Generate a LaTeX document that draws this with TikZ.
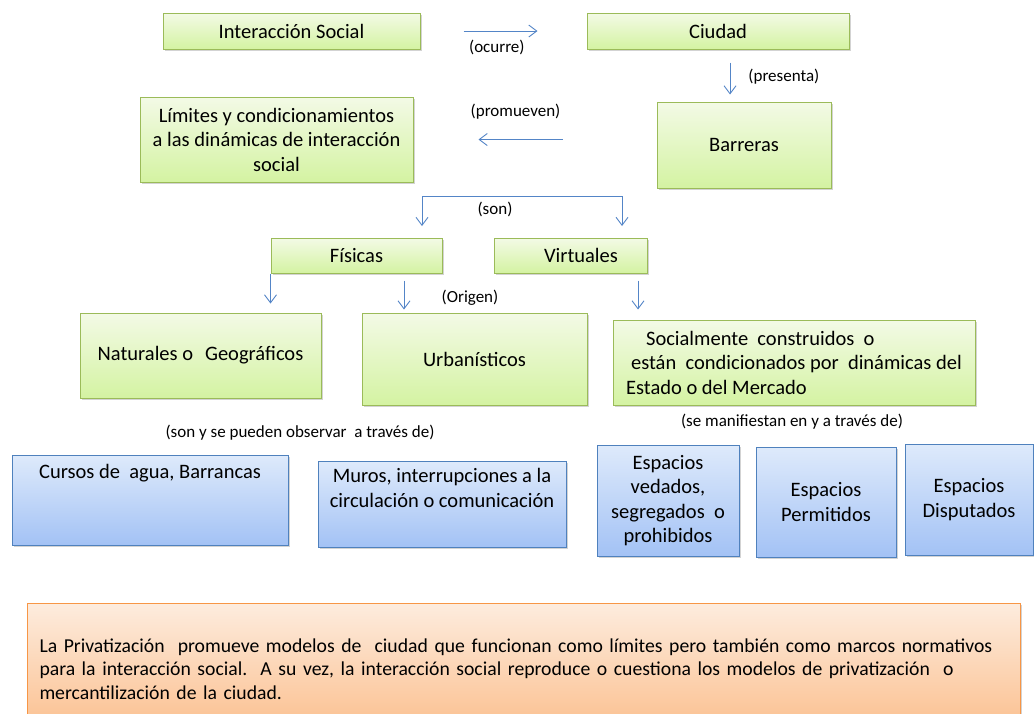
\documentclass[tikz,border=0pt]{standalone}
\usepackage{fontspec}
\setmainfont{Carlito}
\usetikzlibrary{arrows.meta,shadows}

\definecolor{bordeverde}{RGB}{155,187,89}
\definecolor{verdearriba}{RGB}{243,250,230}
\definecolor{verdeabajo}{RGB}{212,243,162}
\definecolor{bordeazul}{RGB}{79,129,189}
\definecolor{azularriba}{RGB}{222,234,251}
\definecolor{azulabajo}{RGB}{163,194,245}
\definecolor{bordenaranja}{RGB}{247,150,70}
\definecolor{naranjaarriba}{RGB}{253,236,222}
\definecolor{naranjaabajo}{RGB}{251,190,140}
\definecolor{flecha}{RGB}{84,133,199}

\begin{document}
\begin{tikzpicture}[x=1pt,y=-1pt,
	caja/.style={draw,line width=1pt,inner sep=0pt,align=center,
		font=\fontsize{20.5}{24.5}\selectfont,
		drop shadow={shadow xshift=1.5pt,shadow yshift=-2pt,opacity=0.35}},
	verde/.style={caja,draw=bordeverde,top color=verdearriba,bottom color=verdeabajo},
	azul/.style={caja,draw=bordeazul,top color=azularriba,bottom color=azulabajo},
	naranja/.style={caja,draw=bordenaranja,top color=naranjaarriba,bottom color=naranjaabajo},
	flechita/.style={draw=flecha,line width=0.9pt,-{Straight Barb[length=8pt,width=12pt]}},
	etiqueta/.style={font=\fontsize{17}{20}\selectfont,inner sep=0pt}]
			\useasboundingbox (0,0) rectangle (1034,713);
			\clip (0,0) rectangle (1034,713);
			% fila de arriba
			\draw (291.5,31) node [verde,minimum width=257pt,minimum height=36pt] (inter) {Interacción Social};
			\draw (718,31) node [verde,minimum width=262pt,minimum height=36pt] (ciudad) {Ciudad};
			\draw (744,145) node [verde,minimum width=174pt,minimum height=86pt] (barreras) {Barreras};
			\draw (276.5,139.5) node [verde,minimum width=273pt,minimum height=85pt] (limites) {Límites y condicionamientos\\a las dinámicas de interacción\\social};
			% tipos de barreras
			\draw (356.5,255.5) node [verde,minimum width=171pt,minimum height=35pt] (fisicas) {Físicas};
			\draw (570.5,255.5) node [verde,minimum width=153pt,minimum height=35pt] (virtuales) {\hspace*{21pt}Virtuales};
			\draw (200.5,355.5) node [verde,minimum width=241pt,minimum height=85pt] (naturales) {Naturales o\hspace{12pt}Geográficos};
			\draw (474.5,359) node [verde,minimum width=225pt,minimum height=92pt] (urbanisticos) {Urbanísticos};
			\draw (794,362.5) node [verde,align=left,minimum width=362pt,minimum height=85pt] (socialmente) {\hspace*{20pt}Socialmente\ \ construidos\ \ o\\\hspace*{5pt}están\ \ condicionados por\ \ dinámicas del\\Estado o del\ Mercado};
			% espacios
			\draw (150,500) node [azul,minimum width=276pt,minimum height=90pt] (cursos) {Cursos de\ \ agua, Barrancas\\\strut\\\strut};
			\draw (442,504) node [azul,minimum width=248pt,minimum height=86pt] (muros) {Muros, interrupciones a la\\circulación o comunicación\\\strut};
			\draw (668,500.5) node [azul,minimum width=142pt,minimum height=111pt] (vedados) {Espacios\\vedados,\\segregados\ \ o\\prohibidos};
			\draw (826,502) node [azul,minimum width=140pt,minimum height=110pt] (permitidos) {Espacios\\Permitidos};
			\draw (969,499.5) node [azul,minimum width=128pt,minimum height=111pt] (disputados) {Espacios\\Disputados};
			\draw (523.5,669) node [naranja,align=left,text width=968pt,minimum width=993pt,minimum height=132pt,font=\fontsize{19.7}{23.5}\selectfont] (nota) {La Privatización\ \ promueve modelos de\ \ ciudad que funcionan como límites pero también como marcos normativos\\para la interacción social.\ \ A su vez, la interacción social reproduce o cuestiona los modelos de privatización\ \ o\\mercantilización de la ciudad.};
			% flechas y etiquetas
			\draw [flechita,shorten <=43pt,shorten >=49pt] (inter) -- node [etiqueta,pos=0.46,below=9pt] {(ocurre)} (ciudad);
			\draw [flechita,shorten >=7pt] ([xshift=12pt,yshift=-13pt]ciudad.south) -- node [etiqueta,pos=0.35,right=18pt] {(presenta)} ([xshift=12pt]ciudad.south |- barreras.north);
			\draw [flechita,shorten <=94pt,shorten >=65pt] (barreras.west |- limites.east) -- node [etiqueta,pos=0.58,above=20pt] {(promueven)} (limites.east);
			\coordinate (sonizq) at (422,196);
			\coordinate (sonder) at (622,196);
			\draw [flechita] (sonder) -- (sonizq) -- ++(0,30);
			\draw [flechita] (sonder) -- ++(0,30);
			\draw (495,209) node [etiqueta] {(son)};
			\draw [flechita,shorten >=9pt] (fisicas.south west) -- (fisicas.south west |- naturales.north);
			\draw [flechita,shorten <=7pt,shorten >=3pt] ([xshift=47.5pt]fisicas.south) -- ([xshift=47.5pt]fisicas.south |- urbanisticos.north);
			\draw [flechita,shorten <=7pt,shorten >=10pt] ([xshift=67.5pt]virtuales.south) -- ([xshift=67.5pt]virtuales.south |- socialmente.north);
			\draw (470,298) node [etiqueta] {(Origen)};
			\draw (300,433) node [etiqueta] {(son y se pueden observar\ \ a través de)};
			\draw (792,422) node [etiqueta] {(se manifiestan en y a través de)};
		\end{tikzpicture}
\end{document}
